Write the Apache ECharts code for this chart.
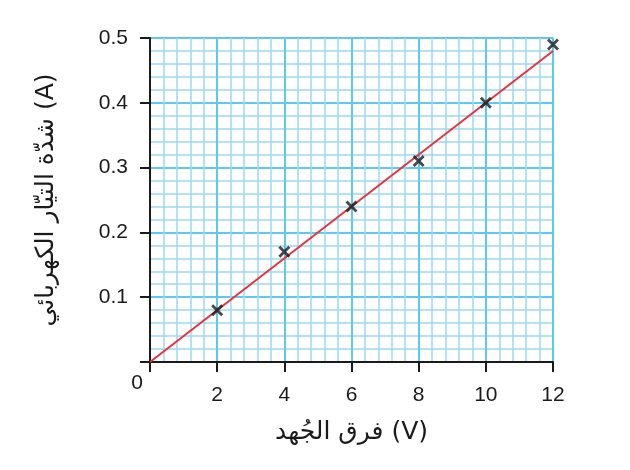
<!DOCTYPE html>
<html><head><meta charset="utf-8">
<script src="https://cdn.jsdelivr.net/npm/echarts@6/dist/echarts.min.js"></script>
<style>html,body{margin:0;padding:0;background:#fff}#c{width:630px;height:470px}</style>
</head><body><div id="c"></div>
<script>
const voltage = [2, 4, 6, 8, 10, 12];
const current = [0.08, 0.17, 0.24, 0.31, 0.40, 0.49];
const fitX = [0, 12];
const fitY = [0, 0.48];
const xName = 'فرق الجُهد (V)';
const yName = 'شدّة التيّار الكهربائي (A)';

const chart = echarts.init(document.getElementById('c'));
const font = "'Liberation Sans', Arial, 'DejaVu Sans', sans-serif";
const ink = '#1a1a1a';
chart.setOption({
  animation: false,
  grid: {left: 150, right: 77, top: 38, bottom: 108},
  xAxis: {
    type: 'value', min: 0, max: 12, interval: 2,
    name: xName, nameLocation: 'middle', nameGap: 58,
    nameTextStyle: {fontSize: 25, color: ink, fontFamily: "'DejaVu Sans', sans-serif"},
    axisLine: {show: true, onZero: false, lineStyle: {color: ink, width: 2}},
    axisTick: {show: true, length: 10, lineStyle: {color: ink, width: 2}},
    axisLabel: {color: ink, fontFamily: font, margin: 8,
      formatter: v => v === 0 ? '{z|0}' : '{n|' + v + '}',
      rich: {
        z: {fontSize: 21, color: ink, fontFamily: font, padding: [3, 26, 0, 0]},
        n: {fontSize: 21, color: ink, fontFamily: font, padding: [15, 0, 0, 0]}
      }},
    splitLine: {show: true, lineStyle: {color: '#5cc8f4', width: 2}},
    minorTick: {show: false, splitNumber: 5},
    minorSplitLine: {show: true, lineStyle: {color: '#9ad9f5', width: 1.5}}
  },
  yAxis: {
    type: 'value', min: 0, max: 0.5, interval: 0.1,
    name: yName, nameLocation: 'middle', nameGap: 91, nameRotate: 90,
    nameTextStyle: {fontSize: 25, color: ink, fontFamily: "'DejaVu Sans', sans-serif"},
    axisLine: {show: true, onZero: false, lineStyle: {color: ink, width: 2}},
    axisTick: {show: true, length: 10, lineStyle: {color: ink, width: 2}},
    axisLabel: {fontSize: 21, color: ink, fontFamily: font, margin: 22,
      formatter: v => v === 0 ? '' : v.toFixed(1)},
    splitLine: {show: true, lineStyle: {color: '#5cc8f4', width: 2}},
    minorTick: {show: false, splitNumber: 5},
    minorSplitLine: {show: true, lineStyle: {color: '#9ad9f5', width: 1.5}}
  },
  series: [
    {type: 'line', data: fitX.map((x, i) => [x, fitY[i]]), symbol: 'none',
     lineStyle: {color: '#e8323c', width: 2}, z: 3},
    {type: 'scatter', data: voltage.map((x, i) => [x, current[i]]),
     symbol: 'path://M2,0 L6,4 L10,0 L12,2 L8,6 L12,10 L10,12 L6,8 L2,12 L0,10 L4,6 L0,2 Z',
     symbolSize: 12, itemStyle: {color: ink}, z: 4}
  ]
});
</script></body></html>
